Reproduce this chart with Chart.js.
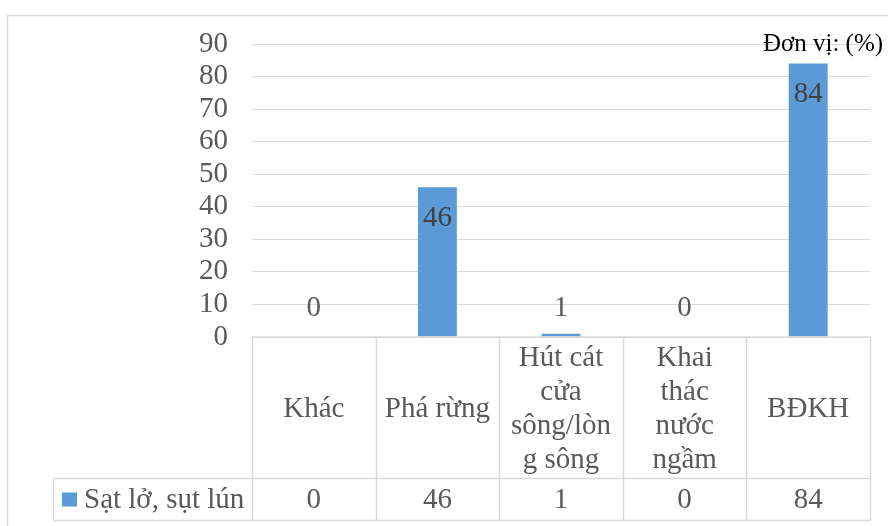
<!DOCTYPE html>
<html>
<head>
<meta charset="utf-8">
<script src="https://cdn.jsdelivr.net/npm/chart.js@4/dist/chart.umd.min.js"></script>
<style>
  html, body { margin: 0; padding: 0; background: #ffffff; }
  #wrap { width: 888px; height: 526px; }
</style>
</head>
<body>
<div id="wrap"><canvas id="c" width="888" height="526"></canvas></div>
<script>
// Causes of erosion / subsidence (percent of responses)
const categories = ['Khác', 'Phá rừng', ['Hút cát', 'cửa', 'sông/lòn', 'g sông'], ['Khai', 'thác', 'nước', 'ngầm'], 'BĐKH'];
const seriesName = 'Sạt lở, sụt lún';
const seriesValues = [0, 46, 1, 0, 84];
const yTicks = [0, 10, 20, 30, 40, 50, 60, 70, 80, 90];
const unitLabel = 'Đơn vị: (%)';

const SERIF = '"Liberation Serif"';
const TEXT = '#595959';
const LINE = '#d9d9d9';
const BAR = '#5b9bd5';

// Outer frame of the chart object
const framePlugin = {
  id: 'frame',
  beforeDraw(chart) {
    const ctx = chart.ctx;
    ctx.save();
    ctx.fillStyle = '#ffffff';
    ctx.fillRect(0, 0, chart.width, chart.height);
    ctx.strokeStyle = LINE;
    ctx.lineWidth = 1.5;
    ctx.strokeRect(7.5, 15.5, chart.width + 20, chart.height + 20);
    ctx.restore();
  }
};

// Value labels at the inner end of each bar (or resting on the axis when the bar is short)
const valueLabelPlugin = {
  id: 'valueLabels',
  afterDatasetsDraw(chart) {
    const ctx = chart.ctx;
    const meta = chart.getDatasetMeta(0);
    const base = chart.scales.y.getPixelForValue(0);
    ctx.save();
    ctx.font = '29px ' + SERIF;
    ctx.textAlign = 'center';
    ctx.textBaseline = 'middle';
    meta.data.forEach((bar, i) => {
      const inside = bar.y + 31 < base - 29;
      const y = Math.min(bar.y + 31, base - 29);
      ctx.fillStyle = inside ? '#404040' : TEXT;
      ctx.fillText(String(seriesValues[i]), bar.x, y);
    });
    ctx.restore();
  }
};

// Data table under the plot: category header row + value row with legend key
const dataTablePlugin = {
  id: 'dataTable',
  afterDraw(chart) {
    const ctx = chart.ctx;
    const area = chart.chartArea;
    const x = chart.scales.x;
    const n = categories.length;
    const colW = (area.right - area.left) / n;
    const top = area.bottom;
    const mid = 478.5;
    const bottom = 520.5;
    const legendLeft = 53.5;

    ctx.save();
    ctx.strokeStyle = LINE;
    ctx.lineWidth = 1.5;
    ctx.beginPath();
    ctx.moveTo(area.left, top); ctx.lineTo(area.right, top);
    ctx.moveTo(legendLeft, mid); ctx.lineTo(area.right, mid);
    ctx.moveTo(legendLeft, bottom); ctx.lineTo(area.right, bottom);
    for (let i = 0; i <= n; i++) {
      const vx = Math.round(area.left + i * colW) + 0.5;
      ctx.moveTo(vx, top); ctx.lineTo(vx, bottom);
    }
    ctx.moveTo(legendLeft, mid); ctx.lineTo(legendLeft, bottom);
    ctx.stroke();

    ctx.fillStyle = TEXT;
    ctx.font = '29px ' + SERIF;
    ctx.textAlign = 'center';
    ctx.textBaseline = 'middle';
    const headCenter = (top + mid) / 2 + 2;
    const lineH = 34;
    categories.forEach((cat, i) => {
      const cx = x.getPixelForValue(i);
      const lines = Array.isArray(cat) ? cat : [cat];
      const start = headCenter - (lines.length - 1) * lineH / 2;
      lines.forEach((ln, j) => ctx.fillText(ln, cx, start + j * lineH));
      ctx.fillText(String(seriesValues[i]), cx, (mid + bottom) / 2 + 1);
    });

    // legend key in the first cell of the value row
    const rowC = (mid + bottom) / 2;
    ctx.fillStyle = BAR;
    ctx.fillRect(62, rowC - 7, 15, 14);
    ctx.fillStyle = TEXT;
    ctx.textAlign = 'left';
    ctx.fillText(seriesName, 84, rowC + 1);

    // unit note at the top right
    ctx.fillStyle = '#000000';
    ctx.font = '25px ' + SERIF;
    ctx.textAlign = 'center';
    ctx.fillText(unitLabel, 823, 44);
    ctx.restore();
  }
};

new Chart(document.getElementById('c'), {
  type: 'bar',
  data: {
    labels: categories,
    datasets: [{
      label: seriesName,
      data: seriesValues,
      backgroundColor: BAR,
      borderWidth: 0,
      categoryPercentage: 1.0,
      barPercentage: 0.315
    }]
  },
  options: {
    responsive: false,
    animation: false,
    devicePixelRatio: 1,
    layout: { padding: { top: 44, bottom: 189, left: 0, right: 18 } },
    plugins: {
      legend: { display: false },
      tooltip: { enabled: false },
      title: { display: false }
    },
    scales: {
      x: { display: false },
      y: {
        min: yTicks[0],
        max: yTicks[yTicks.length - 1],
        afterBuildTicks(scale) {
          scale.ticks = yTicks.map(v => ({ value: v }));
        },
        afterFit(scale) { scale.width = 252; },
        border: { display: false },
        grid: { color: LINE, lineWidth: 1, drawTicks: false },
        ticks: {
          autoSkip: false,
          padding: 24,
          color: TEXT,
          font: { family: SERIF, size: 29 }
        }
      }
    }
  },
  plugins: [framePlugin, valueLabelPlugin, dataTablePlugin]
});
</script>
</body>
</html>
